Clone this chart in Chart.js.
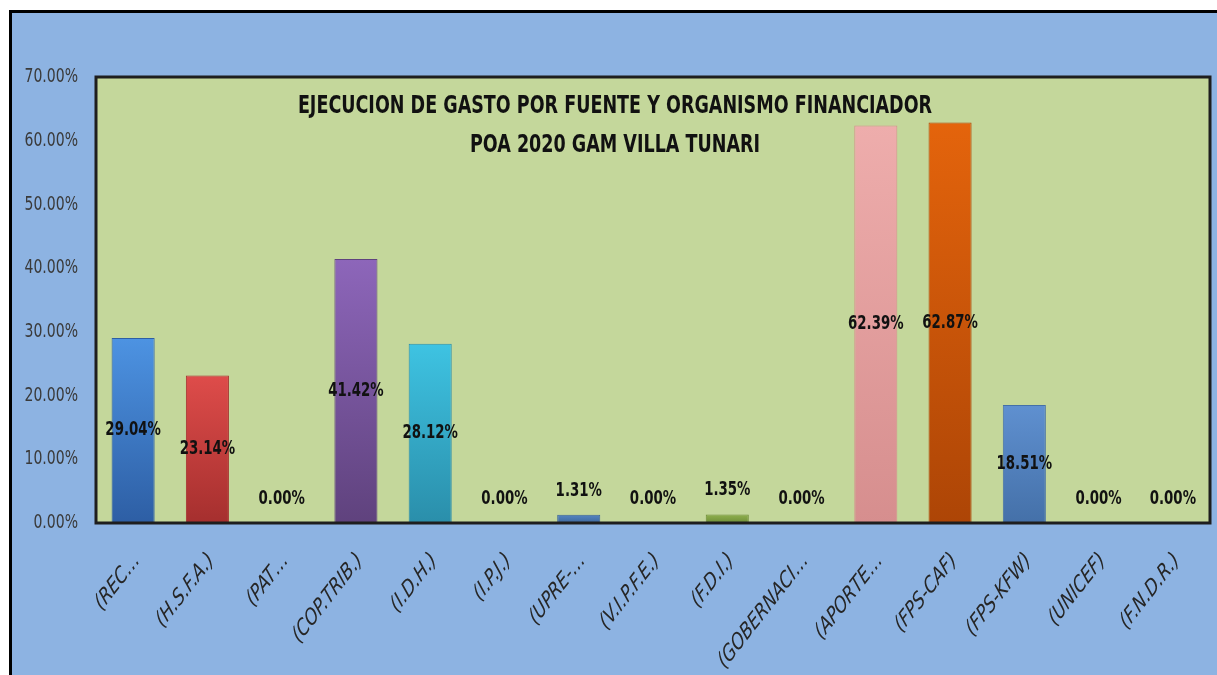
<!DOCTYPE html>
<html lang="es">
<head>
    <meta charset="UTF-8">
    <title>Ejecucion de gasto</title>
    <script src="https://cdn.jsdelivr.net/npm/chart.js"></script>
    <style>
        body { margin: 0; background: #ffffff; }
        #wrap { width: 1217px; height: 675px; position: relative; }
    </style>
</head>
<body>
<div id="wrap"><canvas id="chart"></canvas></div>
<script>
    // datos
    const fuentes = ['(REC…', '(H.S.F.A.)', '(PAT…', '(COP.TRIB.)', '(I.D.H.)', '(I.P.J.)', '(UPRE-…',
        '(V.I.P.F.E.)', '(F.D.I.)', '(GOBERNACI…', '(APORTE…', '(FPS-CAF)', '(FPS-KFW)', '(UNICEF)', '(F.N.D.R.)'];
    const ejecucion = [29.04, 23.14, 0, 41.42, 28.12, 0, 1.31, 0, 1.35, 0, 62.39, 62.87, 18.51, 0, 0];
    const yTicks = [0, 10, 20, 30, 40, 50, 60, 70];
    const titulo = ['EJECUCION DE GASTO POR FUENTE Y ORGANISMO FINANCIADOR', 'POA 2020 GAM VILLA TUNARI'];

    // colores (arriba, abajo)
    const colores = [
        ['#4d93e2', '#2d5ea4'], ['#de4c4a', '#a52f2e'], ['#9bbb59', '#7a9a40'],
        ['#8d66ba', '#5f427d'], ['#3ec3e2', '#2a8eaa'], ['#9bbb59', '#7a9a40'], ['#5585c2', '#3a6498'],
        ['#9bbb59', '#7a9a40'], ['#8fb14e', '#6c8a36'], ['#9bbb59', '#7a9a40'], ['#eeadac', '#d68e8e'],
        ['#e4640c', '#ad4506'], ['#5f90d0', '#4470a8'], ['#9bbb59', '#7a9a40'], ['#9bbb59', '#7a9a40']
    ];

    const FONT = "'DejaVu Sans Condensed', 'Liberation Sans', sans-serif";
    const SX = 0.78; // texto comprimido a lo ancho, como en la imagen original

    function texto(c, txt, x, y, ang) {
        c.save();
        c.translate(x, y);
        c.scale(SX, 1);
        if (ang) c.rotate(ang);
        c.fillText(txt, 0, 0);
        c.restore();
    }

    const fondo = {
        id: 'fondo',
        beforeDraw(chart) {
            const c = chart.ctx, a = chart.chartArea;
            c.save();
            c.fillStyle = '#ffffff';
            c.fillRect(0, 0, chart.width, chart.height);
            c.fillStyle = '#8db3e2';
            c.fillRect(10, 11, chart.width - 10, chart.height - 11);
            c.strokeStyle = '#000000';
            c.lineWidth = 3;
            c.beginPath();
            c.moveTo(10.5, chart.height);
            c.lineTo(10.5, 11.5);
            c.lineTo(chart.width, 11.5);
            c.stroke();
            c.fillStyle = '#c4d79b';
            c.fillRect(a.left, a.top, a.right - a.left, a.bottom - a.top);
            c.restore();
        },
        afterDatasetsDraw(chart) {
            const c = chart.ctx, a = chart.chartArea;
            const xs = chart.scales.x, ys = chart.scales.y;
            c.save();
            c.strokeStyle = '#1e1e1e';
            c.lineWidth = 3;
            c.strokeRect(a.left, a.top, a.right - a.left, a.bottom - a.top);

            // ejes
            c.fillStyle = '#3a3a3a';
            c.textAlign = 'right';
            c.textBaseline = 'middle';
            c.font = '20px ' + FONT;
            ys.ticks.forEach((t) => {
                texto(c, t.value.toFixed(2) + '%', a.left - 18, ys.getPixelForValue(t.value));
            });
            c.fillStyle = '#262626';
            c.font = 'italic 23px ' + FONT;
            fuentes.forEach((lab, i) => {
                texto(c, lab, xs.getPixelForTick(i) + 4, a.bottom + 34, -Math.PI / 4);
            });

            // titulo
            c.fillStyle = '#111111';
            c.textAlign = 'center';
            c.textBaseline = 'middle';
            c.font = 'bold 25px ' + FONT;
            texto(c, titulo[0], 615, 106);
            texto(c, titulo[1], 615, 145);

            // etiquetas de datos
            const meta = chart.getDatasetMeta(0);
            c.font = 'bold 19px ' + FONT;
            meta.data.forEach((bar, i) => {
                const v = ejecucion[i];
                const txt = v.toFixed(2) + '%';
                let ty;
                if (v > 5) ty = (bar.y + bar.base) / 2;
                else ty = ys.getPixelForValue(v) - 24;
                texto(c, txt, bar.x, ty);
            });
            c.restore();
        }
    };

    const ctx = document.getElementById('chart').getContext('2d');
    new Chart(ctx, {
        type: 'bar',
        data: {
            labels: fuentes,
            datasets: [{
                data: ejecucion,
                backgroundColor: (context) => {
                    const i = context.dataIndex;
                    if (i === undefined || !colores[i]) return '#4f81bd';
                    const chart = context.chart;
                    const ys = chart.scales && chart.scales.y;
                    if (!ys) return colores[i][0];
                    const top = ys.getPixelForValue(ejecucion[i]);
                    const bottom = ys.getPixelForValue(0);
                    if (!isFinite(top) || !isFinite(bottom)) return colores[i][0];
                    const g = chart.ctx.createLinearGradient(0, top, 0, bottom + 1);
                    g.addColorStop(0, colores[i][0]);
                    g.addColorStop(1, colores[i][1]);
                    return g;
                },
                borderColor: (context) => colores[context.dataIndex] ? colores[context.dataIndex][1] : '#333',
                borderWidth: 1,
                barPercentage: 0.58,
                categoryPercentage: 1
            }]
        },
        options: {
            responsive: true,
            maintainAspectRatio: false,
            animation: false,
            layout: { padding: { top: 77, right: 7, left: 10, bottom: 0 } },
            plugins: { legend: { display: false }, tooltip: { enabled: false } },
            scales: {
                x: {
                    grid: { display: false, drawTicks: false },
                    border: { display: false },
                    afterFit: (s) => { s.height = 152; },
                    ticks: { display: false, autoSkip: false }
                },
                y: {
                    min: 0, max: 70,
                    grid: { display: false, drawTicks: false },
                    border: { display: false },
                    afterFit: (s) => { s.width = 86; },
                    afterBuildTicks: (s) => { s.ticks = yTicks.map(v => ({ value: v })); },
                    ticks: { display: false }
                }
            }
        },
        plugins: [fondo]
    });
</script>
</body>
</html>
